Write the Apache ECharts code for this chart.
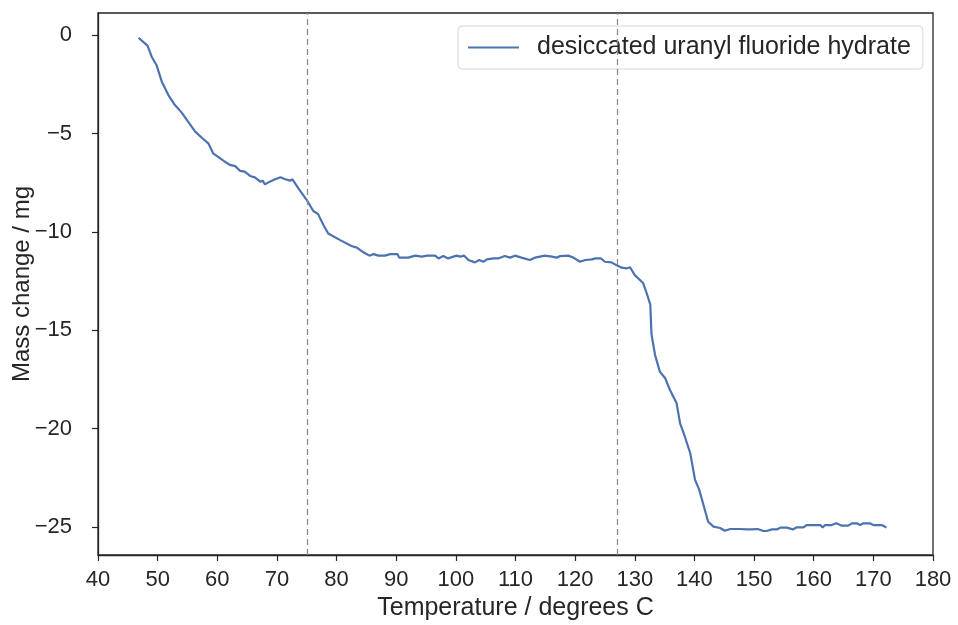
<!DOCTYPE html>
<html>
<head>
    <meta charset="utf-8">
    <title>Mass change</title>
    <script src="https://cdn.jsdelivr.net/npm/echarts@6/dist/echarts.min.js"></script>
</head>
<body style="margin:0">
    <div id="main" style="width: 958px;height:625px;"></div>
    <script type="text/javascript">
        var temps = [
            46.8, 48.3, 49.0, 49.8, 50.7, 51.8, 52.9, 54.0, 55.1, 56.3,
            57.4, 58.5, 59.3, 60.5, 61.3, 62.1, 63.0, 63.8, 64.6, 65.5,
            66.3, 67.2, 67.6, 68.0, 68.8, 69.7, 70.6, 71.4, 72.2, 72.6,
            73.6, 75.1, 76.1, 76.9, 77.8, 78.6, 80.6, 82.5, 83.4, 84.5,
            85.5, 86.2, 87.0, 88.1, 89.0, 90.2, 90.5, 92.0, 93.2, 94.3,
            95.2, 96.5, 97.1, 97.9, 98.7, 100.1, 100.8, 101.4, 102.1, 103.2,
            103.9, 104.6, 105.2, 106.3, 107.1, 108.2, 109.1, 109.9, 111.0, 112.4,
            113.3, 114.9, 116.1, 116.9, 117.5, 118.9, 119.7, 120.8, 121.7, 122.8,
            123.4, 123.7, 124.3, 125.0, 126.1, 126.9, 127.8, 128.6, 129.2, 130.0,
            131.4, 132.0, 132.6, 132.8, 133.4, 134.2, 135.1, 135.9, 137.0, 137.6,
            138.4, 139.3, 140.1, 140.8, 141.6, 142.3, 143.2, 144.3, 145.1, 146.0,
            147.6, 147.9, 148.8, 149.6, 149.9, 150.6, 151.6, 152.1, 153.0, 153.8,
            154.4, 155.5, 156.5, 157.1, 158.3, 158.8, 161.1, 161.5, 161.9, 162.2,
            163.0, 163.8, 164.7, 165.8, 166.4, 167.2, 167.8, 168.3, 169.4, 170.0,
            171.4, 172.2
        ];
        var massChange = [
            -0.14, -0.54, -1.10, -1.52, -2.37, -3.05, -3.56, -3.93, -4.40, -4.91,
            -5.22, -5.50, -6.01, -6.27, -6.44, -6.60, -6.66, -6.90, -6.94, -7.16,
            -7.23, -7.45, -7.40, -7.59, -7.45, -7.33, -7.23, -7.33, -7.40, -7.33,
            -7.79, -8.43, -8.94, -9.10, -9.65, -10.08, -10.42, -10.72, -10.80, -11.04,
            -11.21, -11.13, -11.21, -11.21, -11.13, -11.13, -11.31, -11.31, -11.21, -11.26,
            -11.21, -11.21, -11.35, -11.23, -11.35, -11.21, -11.26, -11.21, -11.43, -11.55,
            -11.43, -11.52, -11.40, -11.35, -11.35, -11.23, -11.31, -11.21, -11.31, -11.43,
            -11.31, -11.21, -11.26, -11.31, -11.23, -11.21, -11.31, -11.52, -11.43, -11.40,
            -11.35, -11.43, -11.35, -11.52, -11.55, -11.69, -11.82, -11.86, -11.80, -12.20,
            -12.60, -13.12, -13.70, -15.20, -16.26, -17.10, -17.44, -18.04, -18.70, -19.73,
            -20.41, -21.25, -22.60, -23.10, -23.97, -24.73, -24.98, -25.05, -25.19, -25.10,
            -25.10, -25.20, -25.12, -25.12, -25.20, -25.10, -25.20, -25.20, -25.12, -25.12,
            -25.03, -25.03, -25.12, -25.02, -25.02, -24.90, -24.90, -25.02, -24.90, -24.98,
            -24.90, -24.81, -24.93, -24.93, -24.81, -24.81, -24.90, -24.81, -24.81, -24.90,
            -24.90, -25.02
        ];
        var markerTemps = [75, 127];
        var xTicks = [40, 50, 60, 70, 80, 90, 100, 110, 120, 130, 140, 150, 160, 170, 180];
        var yTicks = [0, -5, -10, -15, -20, -25];

        var points = [];
        for (var i = 0; i < temps.length; i++) {
            points.push([temps[i], massChange[i]]);
        }

        var textColor = '#262626';
        var chart = echarts.init(document.getElementById('main'));
        chart.setOption({
            animation: false,
            textStyle: { fontFamily: 'Liberation Sans' },
            grid: {
                left: 98, right: 25, top: 13, bottom: 70,
                outerBoundsMode: 'none', containLabel: false,
                show: true, borderColor: textColor, borderWidth: 1.3
            },
            legend: {
                left: 458, top: 26,
                padding: [9, 12, 9, 10],
                backgroundColor: '#fff',
                borderColor: '#d6d6d6', borderWidth: 1, borderRadius: 4,
                icon: 'rect', itemWidth: 51, itemHeight: 2, itemGap: 10,
                textStyle: { fontSize: 25, color: textColor, padding: [0, 0, 0, 13] },
                data: ['desiccated uranyl fluoride hydrate']
            },
            xAxis: {
                type: 'value', min: 40, max: 180, interval: 10,
                name: 'Temperature / degrees C', nameLocation: 'middle', nameGap: 41,
                nameMoveOverlap: false,
                nameTextStyle: { fontSize: 25, color: textColor },
                axisLine: { onZero: false, lineStyle: { color: textColor, width: 1.3 } },
                axisTick: { show: true, length: 6, lineStyle: { color: textColor, width: 1.2 }, customValues: xTicks },
                axisLabel: { fontSize: 22, color: textColor, margin: 14, customValues: xTicks },
                splitLine: { show: false }
            },
            yAxis: {
                type: 'value', min: -26.42, max: 1.12,
                name: 'Mass change / mg', nameLocation: 'middle', nameGap: 64,
                nameMoveOverlap: false,
                nameTextStyle: { fontSize: 24, color: textColor },
                axisLine: { show: true, onZero: false, lineStyle: { color: textColor, width: 1.3 } },
                axisTick: { show: true, length: 6, lineStyle: { color: textColor, width: 1.2 }, customValues: yTicks },
                axisLabel: {
                    fontSize: 22, color: textColor, margin: 26, customValues: yTicks,
                    formatter: function (v) { return String(v).replace('-', '\u2212'); }
                },
                splitLine: { show: false }
            },
            series: [{
                name: 'desiccated uranyl fluoride hydrate',
                type: 'line',
                data: points,
                showSymbol: false,
                lineStyle: { color: '#4c72b0', width: 2.2 },
                itemStyle: { color: '#4c72b0' },
                markLine: {
                    silent: true,
                    symbol: 'none',
                    label: { show: false },
                    lineStyle: { color: '#8c8c8c', type: [6, 4], width: 1.3 },
                    data: markerTemps.map(function (t) { return { xAxis: t }; })
                }
            }]
        });
    </script>
</body>
</html>
